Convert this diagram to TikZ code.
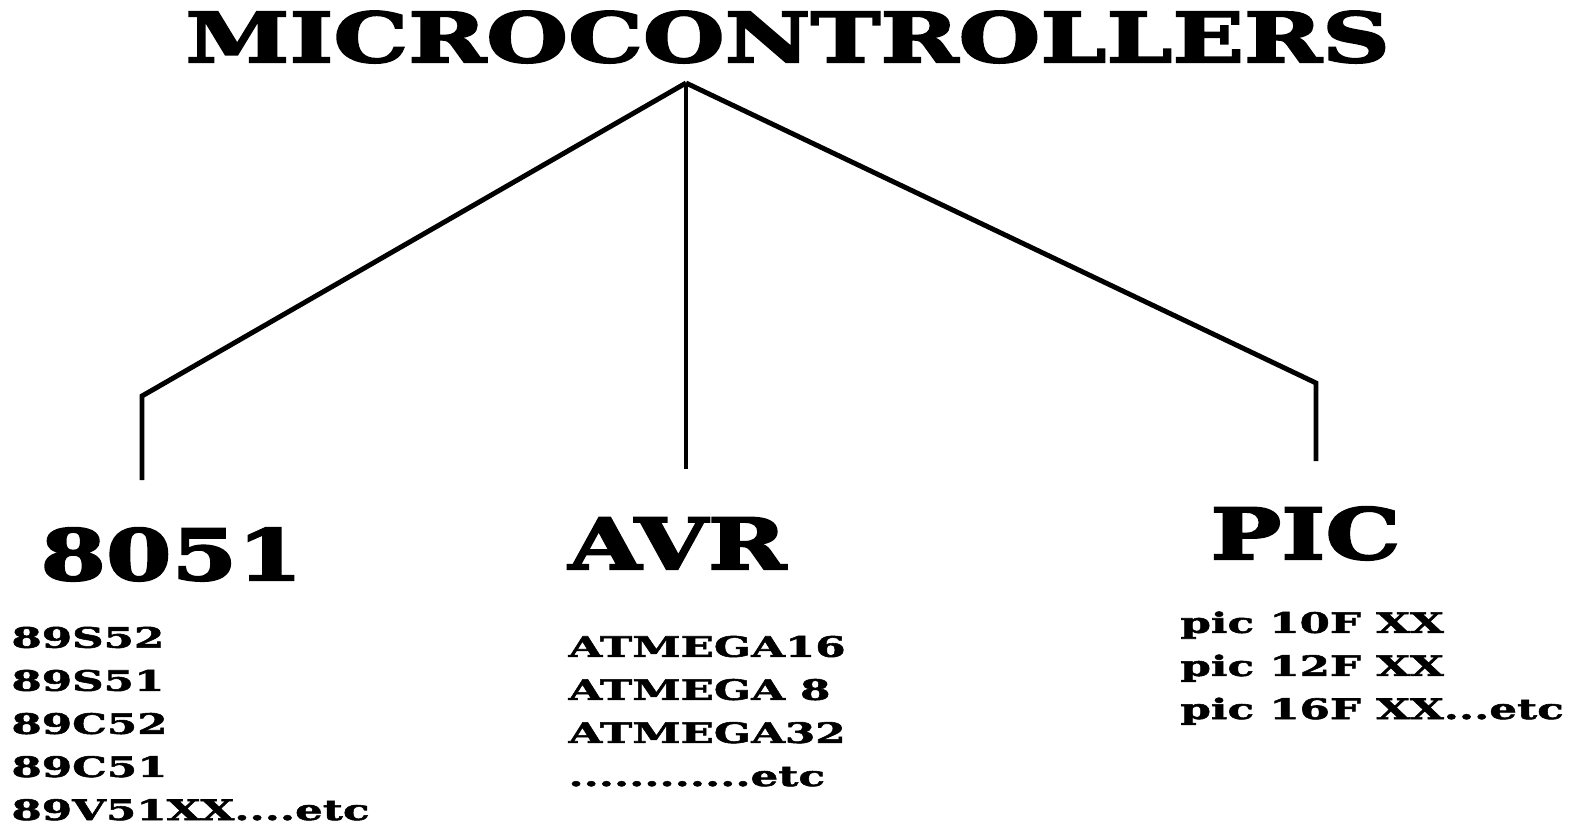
\documentclass[tikz,border=0pt]{standalone}
\usepackage{fontspec}
\newfontfamily\titlefont[FakeStretch=1.37,FakeBold=3]{DejaVu Serif Bold}
\newfontfamily\familyfont[FakeStretch=1.34,FakeBold=3]{DejaVu Serif Bold}
\newfontfamily\listfont[FakeStretch=1.55,FakeBold=2]{DejaVu Serif Bold}
\usepackage{tikz}

\begin{document}
\begin{tikzpicture}[x=0.01cm,y=-0.01cm,line width=1.4pt,
  title node/.style={anchor=base west,inner sep=0pt,font=\titlefont\fontsize{19.5}{22}\selectfont},
  family node/.style={anchor=base west,inner sep=0pt,font=\familyfont\fontsize{20}{22}\selectfont},
  list node/.style={anchor=base west,inner sep=0pt,align=left,font=\listfont\fontsize{8}{12.25}\selectfont}]

  \useasboundingbox (0,0) rectangle (1580,827);

  \node[title node]  (mc)   at (183,62)  {MICROCONTROLLERS};
  \node[family node] (8051) at (38,580)  {8051};
  \node[family node] (avr)  at (566,569) {AVR};
  \node[family node] (pic)  at (1208,559) {PIC};

  % base of a list = baseline of its last line
  \node[list node] (l8051) at (9,820)  {89S52\\89S51\\89C52\\89C51\\89V51XX....etc};
  \node[list node] (lavr)  at (566,786) {ATMEGA16\\ATMEGA 8\\ATMEGA32\\............etc};
  \node[list node] (lpic)  at (1178,719) {pic 10F XX\\pic 12F XX\\pic 16F XX...etc};

  \coordinate (apex)  at (686,83);
  \coordinate (kneeL) at (142,396);
  \coordinate (endL)  at (142,480);
  \coordinate (endM)  at (686,469);
  \coordinate (kneeR) at (1316,383);
  \coordinate (endR)  at (1316,461);

  \draw (apex) -- (kneeL) -- (endL);
  \draw (apex) -- (endM);
  \draw (apex) -- (kneeR) -- (endR);

\end{tikzpicture}
\end{document}
